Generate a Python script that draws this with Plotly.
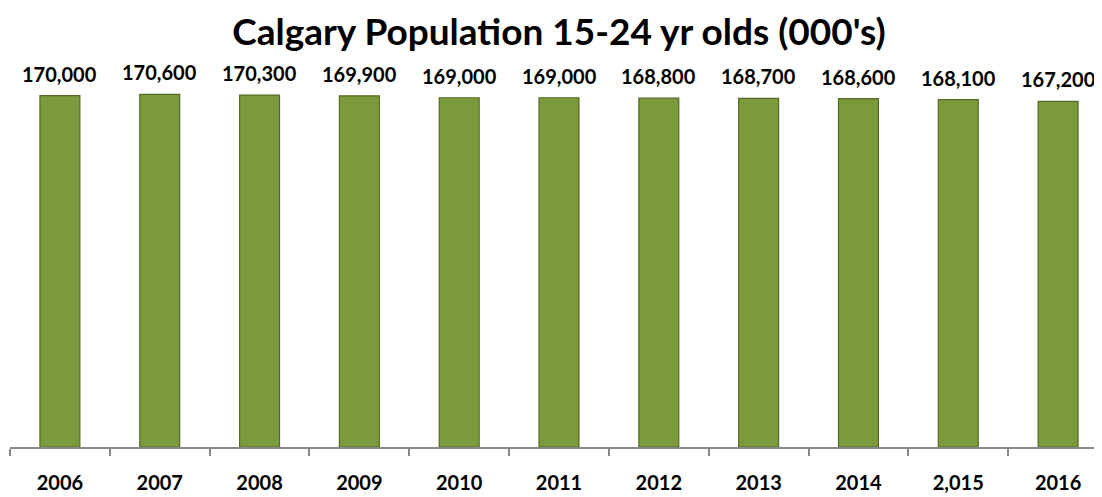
import plotly.graph_objects as go

years = ["2006", "2007", "2008", "2009", "2010", "2011", "2012", "2013", "2014", "2,015", "2016"]
population = [170000, 170600, 170300, 169900, 169000, 169000, 168800, 168700, 168600, 168100, 167200]
labels = [f"{v:,}" for v in population]

fig = go.Figure()
fig.add_trace(go.Bar(
    x=years, y=population,
    marker=dict(color="#7A9A3C", line=dict(color="#556B25", width=1.2)),
    width=0.4,
))

for i, (val, lab) in enumerate(zip(population, labels)):
    fig.add_annotation(x=i, y=val, text=lab, showarrow=False, yanchor="bottom", yshift=8,
                       font=dict(family="Lato", size=20, color="#000000", weight="bold"))

fig.update_layout(
    width=1102, height=497,
    paper_bgcolor="white", plot_bgcolor="white",
    margin=dict(l=2, r=2, t=67, b=58),
    title=dict(text="Calgary Population 15-24 yr olds (000's)", x=0.5, xanchor="center",
               y=0.952, yanchor="middle",
               font=dict(family="Lato", size=37, color="#000000", weight="bold")),
    showlegend=False,
    xaxis=dict(type="category", range=[-0.5, 10.5], showline=True, linecolor="#888888", linewidth=1.5,
               ticks="outside", tickson="boundaries", ticklen=7, tickcolor="#888888", tickwidth=1.5,
               tickfont=dict(family="Lato", size=20, color="#000000", weight="bold"), ticklabelstandoff=17),
    yaxis=dict(range=[0, 180000], visible=False, showgrid=False),
)

fig.write_html("out.html")
